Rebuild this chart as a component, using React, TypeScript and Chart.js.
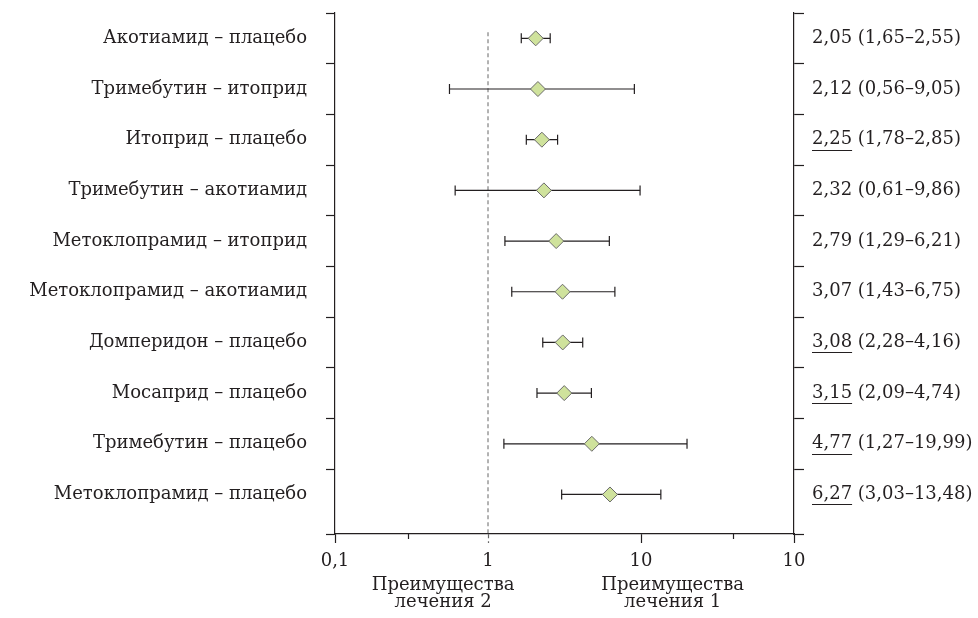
import React, { useEffect, useRef } from "react";
import { Chart, registerables } from "chart.js";

Chart.register(...registerables);

const categories = [
  "Акотиамид – плацебо",
  "Тримебутин – итоприд",
  "Итоприд – плацебо",
  "Тримебутин – акотиамид",
  "Метоклопрамид – итоприд",
  "Метоклопрамид – акотиамид",
  "Домперидон – плацебо",
  "Мосаприд – плацебо",
  "Тримебутин – плацебо",
  "Метоклопрамид – плацебо",
];
const oddsRatio = [2.05, 2.12, 2.25, 2.32, 2.79, 3.07, 3.08, 3.15, 4.77, 6.27];
const ciLow = [1.65, 0.56, 1.78, 0.61, 1.29, 1.43, 2.28, 2.09, 1.27, 3.03];
const ciHigh = [2.55, 9.05, 2.85, 9.86, 6.21, 6.75, 4.16, 4.74, 19.99, 13.48];
const underlined = [false, false, true, false, false, false, true, true, true, true];

const xTickValues = [0.1, 1, 10, 100];
const xTickLabels = ["0,1", "1", "10", "10"];
const xMinorTicks = [0.3, 40];
const sideLabelValues = [0.509, 16.1];
const sideLabels = [
  ["Преимущества", "лечения 2"],
  ["Преимущества", "лечения 1"],
];
const refValue = 1;

const FONT = "'DejaVu Serif', serif";
const FS = 18;
const TEXT = "#231f20";
const Y_MIN = -0.5;
const Y_MAX = 9.78;

const fmt = (v: number) => v.toFixed(2).replace(".", ",");
const rightLabels = oddsRatio.map(
  (v, i) => `${fmt(v)} (${fmt(ciLow[i])}–${fmt(ciHigh[i])})`
);

const yTickValues: number[] = [];
for (let i = 0; i < categories.length; i++) {
  yTickValues.push(i - 0.5);
  yTickValues.push(i);
}
yTickValues.push(Y_MAX);
const isRow = (v: number) => Math.abs(v - Math.round(v)) < 1e-6 && v >= 0 && v < categories.length;

const extrasPlugin = {
  id: "extras",
  afterDraw(chart: any) {
    const ctx = chart.ctx;
    const xs = chart.scales.x;
    const ys = chart.scales.y2;
    const bottom = chart.chartArea.bottom;
    ctx.save();
    ctx.strokeStyle = TEXT;
    ctx.lineWidth = 1.2;
    xMinorTicks.forEach((v) => {
      const px = Math.round(xs.getPixelForValue(v)) + 0.5;
      ctx.beginPath();
      ctx.moveTo(px, bottom);
      ctx.lineTo(px, bottom + 5);
      ctx.stroke();
    });
    ctx.font = `${FS}px ${FONT}`;
    underlined.forEach((u, i) => {
      if (!u) return;
      const w = ctx.measureText(fmt(oddsRatio[i])).width;
      const x0 = ys.left + 10 + 8;
      const y = Math.round(ys.getPixelForValue(i) + 10) + 0.5;
      ctx.beginPath();
      ctx.moveTo(x0, y);
      ctx.lineTo(x0 + w, y);
      ctx.stroke();
    });
    ctx.restore();
  },
};

const noPadV = (s: any) => {
  s.paddingTop = 0;
  s.paddingBottom = 0;
};
const noPadH = (s: any) => {
  s.paddingLeft = 0;
  s.paddingRight = 0;
};

export default function App() {
  const ref = useRef<HTMLCanvasElement>(null);
  useEffect(() => {
    document.body.style.margin = "0";
    const canvas = ref.current!;
    const diamonds = oddsRatio.map((v, i) => ({ x: v, y: i }));
    const bars: any[] = [];
    oddsRatio.forEach((_, i) => {
      bars.push({ x: ciLow[i], y: i });
      bars.push({ x: ciHigh[i], y: i });
      bars.push({ x: refValue, y: null });
    });
    const chart = new Chart(canvas, {
      type: "scatter",
      data: {
        datasets: [
          {
            data: diamonds,
            pointStyle: "rectRot",
            pointRadius: 7.5,
            pointHoverRadius: 7.5,
            backgroundColor: "#cfe29c",
            borderColor: "#6a6a6a",
            borderWidth: 1,
            order: 0,
          } as any,
          {
            data: bars,
            showLine: true,
            spanGaps: false,
            borderColor: TEXT,
            borderWidth: 1.2,
            pointStyle: "line",
            pointRotation: 90,
            pointRadius: 5,
            pointBorderWidth: 1.2,
            pointBorderColor: TEXT,
            order: 1,
          },
          {
            data: [
              { x: refValue, y: -0.12 },
              { x: refValue, y: Y_MAX },
            ],
            showLine: true,
            borderColor: "#666",
            borderWidth: 1,
            borderDash: [4, 3],
            pointRadius: 0,
            order: 2,
          },
        ],
      },
      options: {
        responsive: false,
        animation: false,
        events: [],
        layout: { padding: { top: 13, left: 0, right: 0, bottom: 0 } },
        plugins: { legend: { display: false }, tooltip: { enabled: false }, title: { display: false } },
        scales: {
          x: {
            type: "logarithmic",
            position: "bottom",
            min: 0.1,
            max: 100,
            afterBuildTicks: (s: any) => {
              s.ticks = xTickValues.map((v) => ({ value: v }));
            },
            afterFit: (s: any) => {
              s.height = 36;
              noPadH(s);
            },
            ticks: {
              autoSkip: false,
              maxRotation: 0,
              padding: 8,
              color: TEXT,
              font: { family: FONT, size: FS },
              callback: (_v: any, i: number) => xTickLabels[i],
            },
            grid: {
              drawOnChartArea: false,
              tickLength: 9,
              tickWidth: 1.2,
              tickColor: (c: any) => (c.tick && c.tick.value === refValue ? "#666" : TEXT),
              tickBorderDash: (c: any) => (c.tick && c.tick.value === refValue ? [4, 3] : []),
            } as any,
            border: { color: TEXT, width: 1.2 },
          },
          x2: {
            type: "logarithmic",
            position: "bottom",
            min: 0.1,
            max: 100,
            afterBuildTicks: (s: any) => {
              s.ticks = sideLabelValues.map((v) => ({ value: v }));
            },
            afterFit: (s: any) => {
              s.height = 48;
              noPadH(s);
            },
            ticks: {
              autoSkip: false,
              maxRotation: 0,
              padding: -1,
              color: TEXT,
              font: { family: FONT, size: FS, lineHeight: 0.92 },
              callback: (_v: any, i: number) => sideLabels[i],
            },
            grid: { display: false },
            border: { display: false },
          },
          y: {
            type: "linear",
            position: "left",
            reverse: true,
            min: Y_MIN,
            max: Y_MAX,
            afterBuildTicks: (s: any) => {
              s.ticks = yTickValues.map((v) => ({ value: v }));
            },
            afterFit: (s: any) => {
              s.width = 335;
              noPadV(s);
            },
            ticks: {
              autoSkip: false,
              padding: 19,
              color: TEXT,
              font: { family: FONT, size: FS },
              callback: (v: any) => (isRow(v) ? categories[Math.round(v)] : ""),
            },
            grid: {
              drawOnChartArea: false,
              tickLength: 9,
              tickWidth: 1.2,
              tickColor: (c: any) => (c.tick && isRow(c.tick.value) ? "rgba(0,0,0,0)" : TEXT),
            },
            border: { color: TEXT, width: 1.2 },
          },
          y2: {
            type: "linear",
            position: "right",
            reverse: true,
            min: Y_MIN,
            max: Y_MAX,
            afterBuildTicks: (s: any) => {
              s.ticks = yTickValues.map((v) => ({ value: v }));
            },
            afterFit: (s: any) => {
              s.width = 978 - 794;
              noPadV(s);
            },
            ticks: {
              autoSkip: false,
              padding: 8,
              color: TEXT,
              font: { family: FONT, size: FS },
              callback: (v: any) => (isRow(v) ? rightLabels[Math.round(v)] : ""),
            },
            grid: {
              drawOnChartArea: false,
              tickLength: 10,
              tickWidth: 1.2,
              tickColor: (c: any) => (c.tick && isRow(c.tick.value) ? "rgba(0,0,0,0)" : TEXT),
            },
            border: { color: TEXT, width: 1.2 },
          },
        },
      } as any,
      plugins: [extrasPlugin],
    });
    return () => chart.destroy();
  }, []);
  return (
    <div style={{ width: 978, height: 618, background: "#fff" }}>
      <canvas ref={ref} width={978} height={618} />
    </div>
  );
}
